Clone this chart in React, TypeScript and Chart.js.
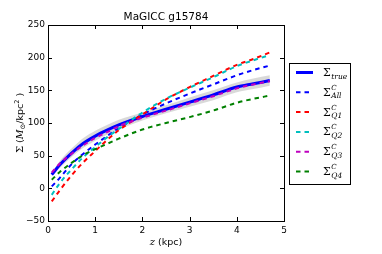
import React, { useEffect, useRef } from "react";
import { Chart, registerables } from "chart.js";

Chart.register(...registerables);

const zValues = [0.08, 0.25, 0.5, 0.75, 1, 1.25, 1.5, 2, 2.5, 3, 3.5, 4, 4.35, 4.7];
const sigmaTrue = [21, 36, 54, 69, 80, 89, 97, 110, 121, 132, 143, 155, 160, 165];
const bandUpper = [24, 42, 61, 77, 88, 97, 105, 116, 127, 139, 150, 162, 168, 173];
const bandLower = [18, 31, 48, 62, 73, 82, 90, 104, 115, 125, 135, 147, 152, 157];
const sigmaAll = [3, 16, 37, 53, 67, 80, 92, 113, 130, 145, 159, 173, 181, 188];
const sigmaQ1 = [-20, -3, 20, 40, 57, 74, 89, 113, 136, 155, 172, 189, 198, 208];
const sigmaQ2 = [-10, 8, 29, 48, 63, 78, 91, 116, 137, 154, 170, 187, 196, 204];
const sigmaQ3 = [24, 38, 53, 66, 77, 86, 95, 108, 119, 130, 141, 153, 159, 164];
const sigmaQ4 = [13, 25, 39, 51, 60, 68, 76, 90, 100, 109, 119, 131, 137, 142];

const xTicks = [0, 1, 2, 3, 4, 5];
const yTicks = [-50, 0, 50, 100, 150, 200, 250];

const titleText = "MaGICC g15784";

const legendItems = [
  { sub: "true", sup: "", color: "#0000ff", dashed: false },
  { sub: "All", sup: "C", color: "#0000ff", dashed: true },
  { sub: "Q1", sup: "C", color: "#ff0000", dashed: true },
  { sub: "Q2", sup: "C", color: "#00bfbf", dashed: true },
  { sub: "Q3", sup: "C", color: "#bf00bf", dashed: true },
  { sub: "Q4", sup: "C", color: "#008000", dashed: true },
];

const pts = (ys: number[]) => ys.map((y, i) => ({ x: zValues[i], y }));

const SANS = "'DejaVu Sans', sans-serif";
const SERIF = "'DejaVu Serif', serif";

const decor = {
  id: "decor",
  afterDraw(chart: any) {
    const { ctx, chartArea: a, scales } = chart;
    const xs = scales.x;
    const ys = scales.y;
    ctx.save();
    // frame
    ctx.strokeStyle = "#000";
    ctx.lineWidth = 1;
    ctx.strokeRect(Math.round(a.left) + 0.5, Math.round(a.top) + 0.5, Math.round(a.right - a.left), Math.round(a.bottom - a.top));
    // inward ticks
    ctx.beginPath();
    for (const v of xTicks) {
      const px = Math.round(xs.getPixelForValue(v)) + 0.5;
      ctx.moveTo(px, a.bottom);
      ctx.lineTo(px, a.bottom - 4);
      ctx.moveTo(px, a.top);
      ctx.lineTo(px, a.top + 4);
    }
    for (const v of yTicks) {
      const py = Math.round(ys.getPixelForValue(v)) + 0.5;
      ctx.moveTo(a.left, py);
      ctx.lineTo(a.left + 4, py);
      ctx.moveTo(a.right, py);
      ctx.lineTo(a.right - 4, py);
    }
    ctx.stroke();

    // title
    ctx.fillStyle = "#000";
    ctx.font = `10.5px ${SANS}`;
    ctx.textAlign = "center";
    ctx.textBaseline = "middle";
    ctx.fillText(titleText, (a.left + a.right) / 2, 17);

    // x axis title: z (kpc)
    ctx.textBaseline = "alphabetic";
    ctx.textAlign = "left";
    const xb = 244.5;
    ctx.font = `italic 10px ${SERIF}`;
    const zw = ctx.measureText("z").width;
    ctx.font = `9.5px ${SANS}`;
    const kw = ctx.measureText(" (kpc)").width;
    let cx = (a.left + a.right) / 2 - (zw + kw) / 2;
    ctx.font = `italic 10px ${SERIF}`;
    ctx.fillText("z", cx, xb);
    ctx.font = `9.5px ${SANS}`;
    ctx.fillText(" (kpc)", cx + zw, xb);

    // y axis title: Σ (M⊙/kpc²)
    ctx.save();
    ctx.translate(23, (a.top + a.bottom) / 2);
    ctx.rotate(-Math.PI / 2);
    const parts: { t: string; f: string; dy: number }[] = [
      { t: "Σ", f: `10px ${SERIF}`, dy: 0 },
      { t: " (", f: `9.5px ${SANS}`, dy: 0 },
      { t: "M", f: `italic 9.5px ${SERIF}`, dy: 0 },
      { t: "⊙", f: `7px ${SERIF}`, dy: 2 },
      { t: "/kpc", f: `9.5px ${SANS}`, dy: 0 },
      { t: "2", f: `6.5px ${SANS}`, dy: -4 },
      { t: " )", f: `9.5px ${SANS}`, dy: 0 },
    ];
    let total = 0;
    for (const p of parts) {
      ctx.font = p.f;
      total += ctx.measureText(p.t).width;
    }
    let px0 = -total / 2;
    for (const p of parts) {
      ctx.font = p.f;
      ctx.fillText(p.t, px0, p.dy);
      px0 += ctx.measureText(p.t).width;
    }
    ctx.restore();

    // legend
    const lx = 289.5, ly = 63.5, lw = 61, lh = 121;
    ctx.fillStyle = "#fff";
    ctx.fillRect(lx, ly, lw, lh);
    ctx.strokeStyle = "#000";
    ctx.lineWidth = 1;
    ctx.strokeRect(lx, ly, lw, lh);
    legendItems.forEach((it, i) => {
      const yy = 72.5 + i * 19.8;
      ctx.beginPath();
      ctx.strokeStyle = it.color;
      ctx.lineWidth = it.dashed ? 2 : 3;
      ctx.setLineDash(it.dashed ? [4.5, 4] : []);
      ctx.moveTo(296, yy);
      ctx.lineTo(313, yy);
      ctx.stroke();
      ctx.setLineDash([]);
      ctx.fillStyle = "#000";
      ctx.font = `11px ${SERIF}`;
      ctx.textBaseline = "alphabetic";
      ctx.fillText("Σ", 323, yy + 3.5);
      const sw = ctx.measureText("Σ").width;
      ctx.font = `italic 7.5px ${SERIF}`;
      ctx.fillText(it.sub, 323 + sw + 0.5, yy + 6);
      if (it.sup) {
        ctx.font = `italic 7px ${SERIF}`;
        ctx.fillText(it.sup, 323 + sw + 0.5, yy - 2.5);
      }
    });
    ctx.restore();
  },
};

export default function App() {
  const ref = useRef<HTMLCanvasElement | null>(null);
  useEffect(() => {
    document.body.style.margin = "0";
    const canvas = ref.current!;
    const dashed = (label: string, data: number[], color: string, order: number) => ({
      label,
      data: pts(data),
      borderColor: color,
      backgroundColor: color,
      borderWidth: 2,
      borderDash: [4.5, 4],
      pointRadius: 0,
      fill: false,
      cubicInterpolationMode: "monotone" as const,
      order,
    });
    const chart = new Chart(canvas, {
      type: "line",
      data: {
        datasets: [
          {
            label: "bandLower",
            data: pts(bandLower),
            borderColor: "rgba(0,0,0,0)",
            borderWidth: 0,
            pointRadius: 0,
            fill: false,
            cubicInterpolationMode: "monotone",
            order: 20,
          },
          {
            label: "bandUpper",
            data: pts(bandUpper),
            borderColor: "rgba(0,0,0,0)",
            backgroundColor: "rgba(160,160,160,0.4)",
            borderWidth: 0,
            pointRadius: 0,
            fill: "-1",
            cubicInterpolationMode: "monotone",
            order: 19,
          },
          {
            label: "true",
            data: pts(sigmaTrue),
            borderColor: "#0000ff",
            borderWidth: 3,
            pointRadius: 0,
            fill: false,
            cubicInterpolationMode: "monotone",
            order: 10,
          },
          dashed("All", sigmaAll, "#0000ff", 5),
          dashed("Q1", sigmaQ1, "#ff0000", 4),
          dashed("Q2", sigmaQ2, "#00bfbf", 3),
          dashed("Q3", sigmaQ3, "#bf00bf", 1),
          dashed("Q4", sigmaQ4, "#008000", 2),
        ] as any,
      },
      options: {
        animation: false,
        responsive: false,
        maintainAspectRatio: false,
        layout: { padding: { left: 0, top: 25, right: 98, bottom: 0 } },
        plugins: { legend: { display: false }, tooltip: { enabled: false }, title: { display: false } },
        scales: {
          x: {
            type: "linear",
            min: 0,
            max: 5,
            afterFit: (s: any) => { s.height = 33; },
            afterBuildTicks: (s: any) => { s.ticks = xTicks.map((v) => ({ value: v })); },
            grid: { display: false, drawTicks: false },
            border: { display: false },
            ticks: { color: "#000", font: { family: SANS, size: 9 }, padding: 4, maxRotation: 0 },
          },
          y: {
            type: "linear",
            min: -50,
            max: 250,
            afterFit: (s: any) => { s.width = 48; },
            afterBuildTicks: (s: any) => { s.ticks = yTicks.map((v) => ({ value: v })); },
            grid: { display: false, drawTicks: false },
            border: { display: false },
            ticks: {
              color: "#000",
              font: { family: SANS, size: 9 },
              padding: 3,
              callback: (v: any) => (Number(v) < 0 ? "\u2212" + Math.abs(Number(v)) : String(v)),
            },
          },
        },
      },
      plugins: [decor],
    });
    return () => chart.destroy();
  }, []);
  return <canvas ref={ref} width={382} height={254} style={{ display: "block" }} />;
}
